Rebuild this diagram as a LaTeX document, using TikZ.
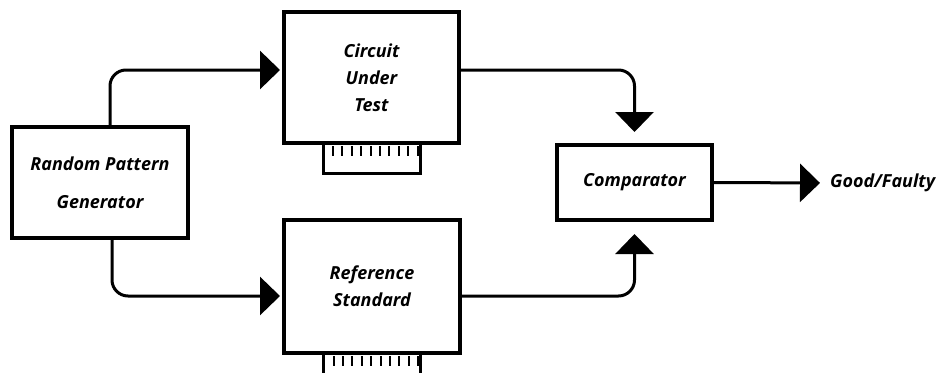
\documentclass[tikz,border=0pt]{standalone}
\usepackage{fontspec}
\setmainfont{Open Sans}
\usetikzlibrary{arrows.meta,positioning}

\begin{document}
\begin{tikzpicture}[
  x=1pt, y=-1pt,
  font=\fontsize{18}{27}\selectfont\bfseries\itshape,
  block/.style={draw=black, line width=3.5pt, align=center, inner sep=0pt, outer sep=0pt},
  board/.style={block, line width=4pt},
  tab/.style={draw=black, line width=3pt, minimum width=97pt, minimum height=30pt,
              inner sep=0pt, outer sep=0pt},
  pin/.style={line width=2pt},
  arrow/.style={-{Triangle[length=20pt, width=38pt]}, line width=3pt, rounded corners=16pt}
]
\useasboundingbox (0,0) rectangle (944,372);
% blocks
\node[block, minimum width=176pt, minimum height=111pt,
      font=\fontsize{18}{38}\selectfont\bfseries\itshape] (gen) at (100,182.5) {Random Pattern\\ Generator};
\node[board, minimum width=175pt, minimum height=131pt] (cut) at (371.5,77.5) {Circuit\\ Under\\ Test};
\node[board, minimum width=176pt, minimum height=133pt] (ref) at (372,286.5) {Reference\\ Standard};
\node[block, minimum width=155pt, minimum height=75pt] (cmp) at (634.5,182.5) {Comparator};
\node[anchor=west, inner sep=0pt] (good) at (830,183) {Good/Faulty};
% edge connectors
\node[tab, anchor=north] (cutTab) at (cut.south) {};
\node[tab, anchor=north] (refTab) at (ref.south) {};
\foreach \t in {cutTab, refTab}
  \foreach \i in {0,...,9}
    \draw[pin] ([xshift=10pt+\i*9.4pt, yshift=-3pt]\t.north west) -- ++(0,10);
% signal paths
\draw[arrow, shorten >=4pt] ([xshift=10pt]gen.north) |- ([yshift=7.5pt]cut.west);
\draw[arrow, shorten >=4pt] ([xshift=12pt]gen.south) |- ([yshift=-9.5pt]ref.west);
\draw[arrow, shorten >=13pt] ([yshift=7.5pt]cut.east) -| (cmp.north);
\draw[arrow, shorten >=14pt] ([yshift=-9.5pt]ref.east) -| (cmp.south);
\draw[arrow, shorten >=10pt] (cmp.east) -- (good.west);
\end{tikzpicture}
\end{document}
